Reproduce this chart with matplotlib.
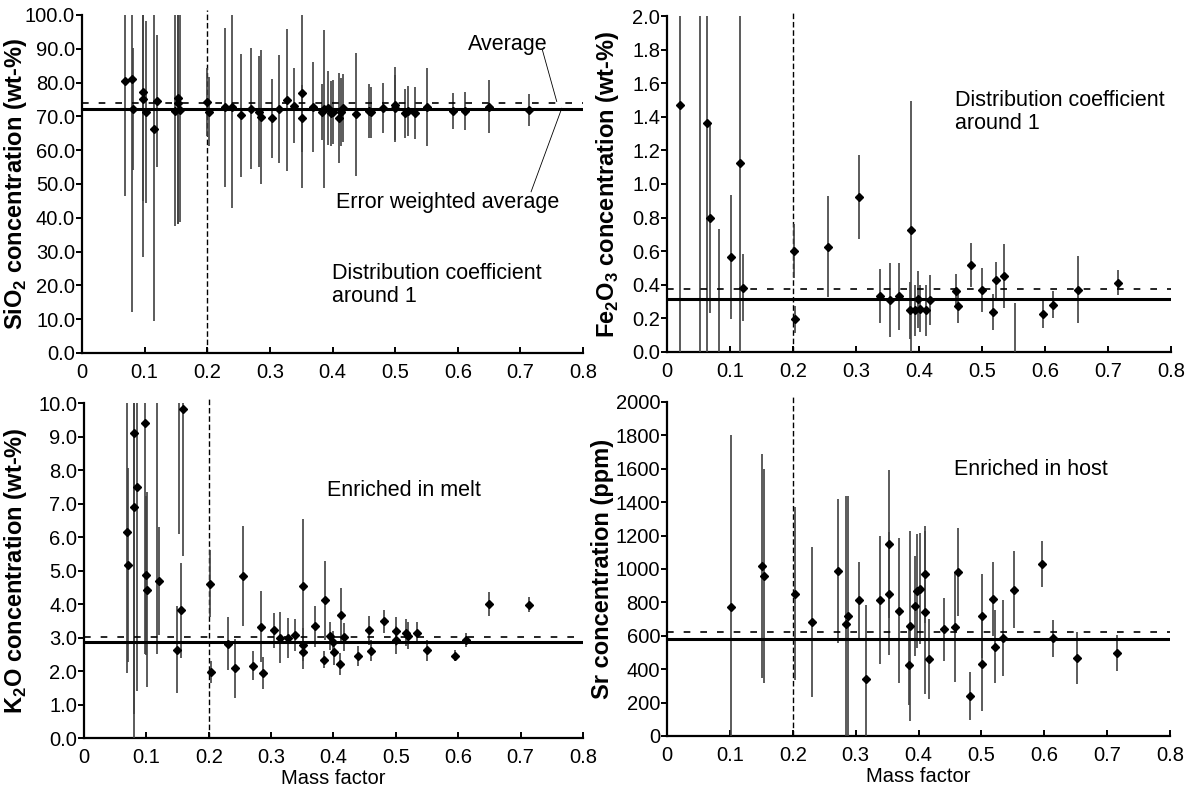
import matplotlib
matplotlib.use("Agg")
import matplotlib.pyplot as plt
import numpy as np

plt.rcParams["font.family"] = ["Liberation Sans", "DejaVu Sans"]
plt.rcParams["mathtext.fontset"] = "custom"
plt.rcParams["mathtext.rm"] = "Liberation Sans"
plt.rcParams["mathtext.bf"] = "Liberation Sans:bold"

# --- SiO2 (wt-%) ---
sio2_x = [0.068, 0.080, 0.082, 0.098, 0.098, 0.1016, 0.115, 0.120, 0.149, 0.1537,
          0.1537, 0.156, 0.200, 0.202, 0.229, 0.240, 0.254, 0.270, 0.283, 0.286,
          0.303, 0.314, 0.327, 0.338, 0.352, 0.352, 0.368, 0.383, 0.386, 0.392,
          0.398, 0.401, 0.410, 0.413, 0.416, 0.438, 0.4585, 0.461, 0.480, 0.500,
          0.500, 0.516, 0.520, 0.532, 0.551, 0.593, 0.611, 0.650, 0.714]
sio2_y = [80.5, 81.0, 72.2, 77.1, 75.1, 71.3, 66.4, 74.6, 71.7, 75.3,
          74.1, 71.9, 74.2, 71.4, 72.7, 72.9, 70.3, 72.3, 71.4, 69.9,
          69.4, 72.3, 74.8, 73.2, 76.8, 69.4, 72.9, 71.3, 72.2, 72.4,
          70.9, 71.3, 69.4, 71.3, 72.4, 70.6, 71.6, 71.2, 72.4, 73.5,
          72.6, 70.9, 71.6, 70.9, 72.7, 71.6, 71.6, 72.9, 71.9]
sio2_err = [34, 69, 18, 48.7, 30, 27, 57, 19.5, 34, 37,
            36, 33, 10, 10.3, 23.5, 30, 18.2, 18, 16.4, 19.8,
            11.8, 16, 21, 11, 28, 10, 13.3, 8.4, 23.3, 11,
            9.6, 9.6, 13.3, 10, 10, 18.3, 8, 7.6, 7.4, 11,
            9.5, 7.2, 7.3, 7.7, 11.5, 5.4, 5.7, 7.8, 4.8]
sio2_avg, sio2_wavg = 74.1, 72.2

# --- Fe2O3 (wt-%) ---
fe_x = [0.0212, 0.053, 0.063, 0.069, 0.082, 0.101, 0.1153, 0.1206, 0.201, 0.203,
        0.256, 0.305, 0.3386, 0.3534, 0.368, 0.385, 0.388, 0.394, 0.399, 0.402,
        0.4116, 0.418, 0.4587, 0.4625, 0.482, 0.5005, 0.518, 0.522, 0.5344, 0.553,
        0.5963, 0.613, 0.652, 0.7154]
fe_y = [1.47, 2.40, 1.366, 0.80, -0.05, 0.566, 1.126, 0.383, 0.602, 0.195,
        0.626, 0.92, 0.334, 0.312, 0.332, 0.248, 0.725, 0.248, 0.314, 0.258,
        0.248, 0.308, 0.363, 0.274, 0.516, 0.367, 0.238, 0.427, 0.453, -0.05,
        0.224, 0.282, 0.371, 0.413]
fe_err = [1.47, 2.40, 1.37, 0.57, 0.78, 0.37, 1.13, 0.20, 0.16, 0.08,
          0.30, 0.25, 0.16, 0.22, 0.20, 0.17, 0.77, 0.15, 0.17, 0.14,
          0.15, 0.15, 0.10, 0.10, 0.13, 0.13, 0.11, 0.11, 0.19, 0.34,
          0.08, 0.08, 0.20, 0.075]
fe_avg, fe_wavg = 0.377, 0.318

# --- K2O (wt-%) ---
k2o_x = [0.069, 0.070, 0.0802, 0.081, 0.0845, 0.0979, 0.099, 0.1016, 0.1166, 0.120,
         0.1497, 0.153, 0.155, 0.158, 0.2016, 0.2037, 0.2305, 0.2417, 0.2545, 0.2706,
         0.284, 0.287, 0.304, 0.315, 0.3278, 0.339, 0.3516, 0.3516, 0.3516, 0.3706,
         0.385, 0.3866, 0.3947, 0.399, 0.401, 0.4107, 0.4118, 0.4176, 0.440, 0.4575,
         0.460, 0.481, 0.4997, 0.500, 0.516, 0.520, 0.5334, 0.5504, 0.5948, 0.6124,
         0.650, 0.714]
k2o_y = [6.14, 5.17, 9.12, 6.89, 7.49, 9.40, 4.86, 4.43, 11.0, 4.69,
         2.64, 11.0, 3.81, 9.82, 4.61, 1.96, 2.82, 2.08, 4.83, 2.16,
         3.32, 1.94, 3.21, 2.99, 2.99, 3.08, 4.53, 2.79, 2.56, 3.33,
         2.34, 4.11, 3.05, 2.86, 2.56, 2.22, 3.68, 3.01, 2.44, 3.21,
         2.61, 3.48, 3.18, 2.92, 3.15, 3.05, 3.13, 2.62, 2.46, 2.94,
         4.00, 3.98]
k2o_err = [4.2, 2.9, 8.4, 6.9, 6.1, 6.9, 2.37, 2.9, 8.5, 1.6,
           1.3, 4.9, 1.41, 4.4, 1.0, 0.33, 0.8, 0.88, 1.5, 0.43,
           1.06, 0.47, 0.53, 0.76, 0.6, 0.48, 2.0, 0.5, 0.5, 0.6,
           0.25, 1.18, 0.42, 0.34, 0.37, 0.33, 0.8, 0.41, 0.3, 0.44,
           0.31, 0.35, 0.42, 0.42, 0.4, 0.4, 0.32, 0.32, 0.16, 0.21,
           0.37, 0.23]
k2o_avg, k2o_wavg = 3.03, 2.86

# --- Sr (ppm) ---
sr_x = [0.1016, 0.151, 0.155, 0.2037, 0.231, 0.2714, 0.284, 0.2873, 0.3048, 0.316,
        0.3386, 0.3534, 0.3534, 0.3688, 0.385, 0.387, 0.3947, 0.398, 0.402, 0.411,
        0.411, 0.417, 0.4405, 0.458, 0.4622, 0.4813, 0.5014, 0.5003, 0.518, 0.5215,
        0.5337, 0.5513, 0.5957, 0.6137, 0.6513, 0.7154]
sr_y = [774, 1017, 957, 853, 684, 987, 670, 718, 814, 343,
        814, 1149, 853, 750, 425, 660, 778, 869, 883, 969,
        740, 460, 638, 654, 983, 241, 718, 429, 820, 534,
        588, 877, 1029, 584, 465, 499]
sr_err = [1030, 670, 640, 520, 450, 432, 770, 720, 230, 440,
          385, 442, 370, 433, 240, 570, 300, 340, 330, 290,
          490, 240, 190, 330, 265, 144, 250, 280, 220, 218,
          228, 230, 137, 113, 155, 107]
sr_avg, sr_wavg = 620, 578

x_ticks = [0, 0.1, 0.2, 0.3, 0.4, 0.5, 0.6, 0.7, 0.8]
x_tick_labels = ["0", "0.1", "0.2", "0.3", "0.4", "0.5", "0.6", "0.7", "0.8"]
mass_cut = 0.2

FS = 14.5        # tick labels
FS_LAB = 17      # axis titles
FS_NOTE = 15.5   # annotations

fig = plt.figure(figsize=(11.96, 7.89), dpi=100)

panels = [
    # position, data, ylim, yticks, fmt, ylabel, label x, bottom row
    ([0.0686, 0.5526, 0.4189, 0.4284], (sio2_x, sio2_y, sio2_err, sio2_avg, sio2_wavg),
     (0, 100), np.arange(0, 100.1, 10), "{:.1f}",
     r"SiO$_\mathbf{2}$ concentration (wt-%)", -0.106, False),
    ([0.5577, 0.5539, 0.4214, 0.4258], (fe_x, fe_y, fe_err, fe_avg, fe_wavg),
     (0, 2.0), np.arange(0, 2.01, 0.2), "{:.1f}",
     r"Fe$_\mathbf{2}$O$_\mathbf{3}$ concentration (wt-%)", -0.092, False),
    ([0.0702, 0.0646, 0.4172, 0.4246], (k2o_x, k2o_y, k2o_err, k2o_avg, k2o_wavg),
     (0, 10), np.arange(0, 10.01, 1), "{:.1f}",
     r"K$_\mathbf{2}$O concentration (wt-%)", -0.11, True),
    ([0.5577, 0.0672, 0.4206, 0.4233], (sr_x, sr_y, sr_err, sr_avg, sr_wavg),
     (0, 2000), np.arange(0, 2001, 200), "{:.0f}",
     "Sr concentration (ppm)", -0.106, True),
]

axes = []
for pos, (xs, ys, errs, avg, wavg), ylim, yticks, fmt, ylabel, lx, bottom in panels:
    ax = fig.add_axes(pos)
    ax.errorbar(xs, ys, yerr=errs, fmt="D", color="k", ms=4.2,
                ecolor="0.25", elinewidth=1.2, capsize=0, zorder=3)
    ax.axhline(wavg, color="k", lw=2.2, zorder=4)
    ax.axhline(avg, color="k", lw=1.2, ls=(0, (4, 6)), zorder=4)
    ax.plot([mass_cut, mass_cut], [0, 1.015], transform=ax.get_xaxis_transform(),
            color="k", lw=1.0, ls=(0, (4, 2)), clip_on=False, zorder=2)
    ax.set_xlim(0, 0.8)
    ax.set_ylim(*ylim)
    ax.set_xticks(x_ticks)
    ax.set_xticklabels(x_tick_labels)
    ax.set_yticks(yticks)
    ax.set_yticklabels([fmt.format(v) for v in yticks])
    for side in ("top", "right"):
        ax.spines[side].set_visible(False)
    for side in ("left", "bottom"):
        ax.spines[side].set_linewidth(1.6)
    ax.tick_params(axis="x", direction="in", length=4, width=1.4, labelsize=FS, pad=7)
    ax.tick_params(axis="y", direction="out", length=4, width=1.4, labelsize=FS, pad=1)
    ax.set_ylabel(ylabel, fontsize=FS_LAB, fontweight="bold")
    ax.yaxis.set_label_coords(lx, 0.5)
    if bottom:
        ax.set_xlabel("Mass factor", fontsize=FS)
        ax.xaxis.set_label_coords(0.5, -0.093)
    axes.append(ax)

ax1, ax2, ax3, ax4 = axes

ax1.text(0.679, 91.4, "Average", fontsize=FS_NOTE, ha="center", va="center")
ax1.plot([0.735, 0.758], [89.7, 74.4], color="k", lw=0.6)
ax1.text(0.583, 44.4, "Error weighted average", fontsize=FS_NOTE, ha="center", va="center")
ax1.plot([0.717, 0.766], [47.7, 72.4], color="k", lw=0.6)
ax1.text(0.399, 20.2, "Distribution coefficient\naround 1", fontsize=FS_NOTE,
         ha="left", va="center", linespacing=1.15)

ax2.text(0.457, 1.43, "Distribution coefficient\naround 1", fontsize=FS_NOTE,
         ha="left", va="center", linespacing=1.15)
ax3.text(0.389, 7.40, "Enriched in melt", fontsize=FS_NOTE, ha="left", va="center")
ax4.text(0.457, 1593, "Enriched in host", fontsize=FS_NOTE, ha="left", va="center")

fig.savefig("out.png", dpi=100)
